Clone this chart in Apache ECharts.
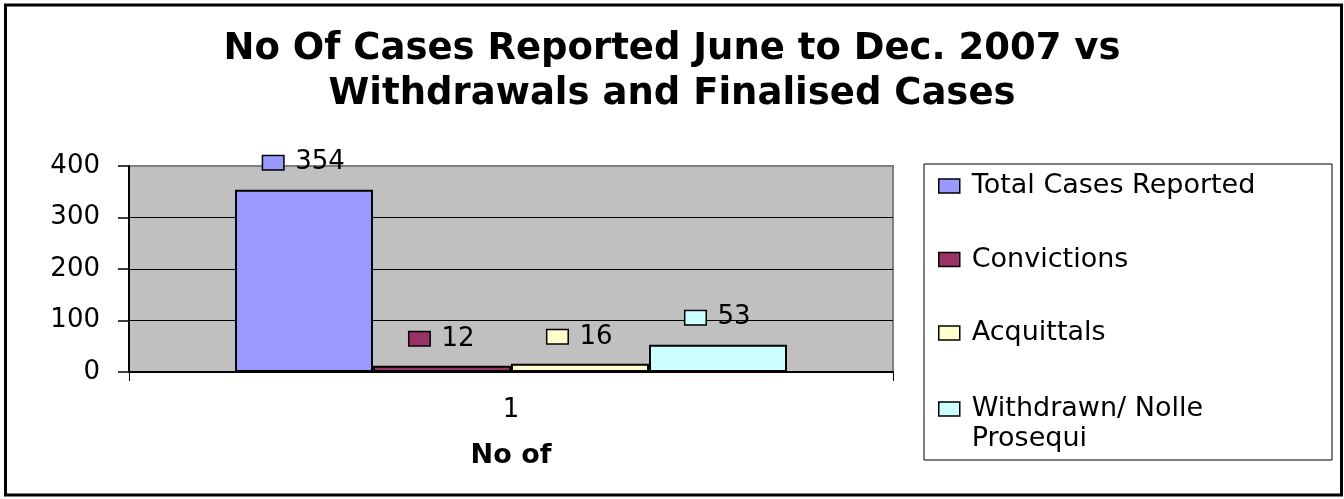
<!DOCTYPE html>
<html>
<head>
<meta charset="utf-8">
<script src="https://cdn.jsdelivr.net/npm/echarts@6/dist/echarts.min.js"></script>
<style>
html,body{margin:0;padding:0;background:#fff;}
#chart{width:1344px;height:499px;}
</style>
</head>
<body>
<div id="chart"></div>
<script>
var titleText = 'No Of Cases Reported June to Dec. 2007 vs\nWithdrawals and Finalised Cases';
var categories = ['1'];
var xAxisName = 'No of';
var seriesNames = ['Total Cases Reported', 'Convictions', 'Acquittals', 'Withdrawn/ Nolle Prosequi'];
var totalCases = [354];
var convictions = [12];
var acquittals = [16];
var withdrawn = [53];
var yTicks = [0, 100, 200, 300, 400];
var colors = ['#9999FF', '#993366', '#FFFFCC', '#CCFFFF'];

var FONT = 'DejaVu Sans';
var seriesData = [totalCases, convictions, acquittals, withdrawn];

function makeSeries(i) {
  return {
    name: seriesNames[i],
    type: 'bar',
    data: seriesData[i],
    barWidth: 138,
    barGap: '0%',
    itemStyle: { color: colors[i], borderColor: '#000', borderWidth: 2 },
    label: {
      show: true,
      position: 'top',
      distance: 12,
      formatter: function (p) { return '{sq|}{v|' + p.value + '}'; },
      rich: {
        sq: { width: 20, height: 13, backgroundColor: colors[i], borderColor: '#000', borderWidth: 1.5, verticalAlign: 'middle' },
        v: { fontSize: 26, fontFamily: FONT, color: '#000', padding: [0, 0, 0, 12], lineHeight: 30 }
      }
    }
  };
}

var chart = echarts.init(document.getElementById('chart'));
chart.setOption({
  backgroundColor: '#fff',
  animation: false,
  title: {
    text: titleText,
    left: 'center',
    top: 22,
    textStyle: { fontFamily: FONT, fontWeight: 'bold', fontSize: 37, lineHeight: 45, color: '#000' }
  },
  legend: [{
    data: seriesNames.slice(0, 3),
    orient: 'vertical',
    left: 938,
    top: 171,
    padding: 0,
    itemWidth: 21,
    itemHeight: 14,
    itemGap: 43.5,
    icon: 'rect',
    itemStyle: { borderColor: '#000', borderWidth: 1.5 },
    textStyle: { fontFamily: FONT, fontSize: 27, lineHeight: 30, color: '#000', padding: [0, 0, 0, 7] }
  }, {
    data: seriesNames.slice(3),
    orient: 'vertical',
    left: 938,
    top: 364,
    padding: 0,
    itemWidth: 21,
    itemHeight: 14,
    icon: 'rect',
    itemStyle: { borderColor: '#000', borderWidth: 1.5 },
    formatter: function () { return '\nWithdrawn/ Nolle\nProsequi'; },
    textStyle: { fontFamily: FONT, fontSize: 27, lineHeight: 30, color: '#000', padding: [0, 0, 0, 7] }
  }],
  graphic: [{
    type: 'rect',
    shape: { x: 924, y: 164, width: 408, height: 296 },
    style: { fill: 'none', stroke: '#000', lineWidth: 1 },
    silent: true
  }, {
    type: 'rect',
    shape: { x: 5.5, y: 5, width: 1336, height: 490 },
    style: { fill: 'none', stroke: '#000', lineWidth: 3 },
    silent: true
  }],
  grid: {
    left: 129, right: 451, top: 166, bottom: 127,
    show: true, backgroundColor: '#C0C0C0', borderColor: '#808080', borderWidth: 2
  },
  xAxis: {
    type: 'category',
    data: categories,
    name: xAxisName,
    nameLocation: 'middle',
    nameGap: 69,
    nameTextStyle: { fontFamily: FONT, fontWeight: 'bold', fontSize: 27, lineHeight: 30, color: '#000' },
    axisLine: { lineStyle: { color: '#000', width: 2 } },
    axisTick: { show: true, length: 9, lineStyle: { color: '#000', width: 1 } },
    axisLabel: { fontFamily: FONT, fontSize: 26, lineHeight: 28, color: '#000', margin: 24 }
  },
  yAxis: {
    type: 'value',
    min: yTicks[0],
    max: yTicks[yTicks.length - 1],
    interval: yTicks[1] - yTicks[0],
    axisLine: { show: true, lineStyle: { color: '#000', width: 2 } },
    axisTick: { show: true, length: 11, lineStyle: { color: '#000', width: 1.5 } },
    axisLabel: { fontFamily: FONT, fontSize: 26, color: '#000', margin: 29 },
    splitLine: { show: true, showMaxLine: false, lineStyle: { color: '#000', width: 1 } }
  },
  series: [makeSeries(0), makeSeries(1), makeSeries(2), makeSeries(3)]
});
</script>
</body>
</html>
